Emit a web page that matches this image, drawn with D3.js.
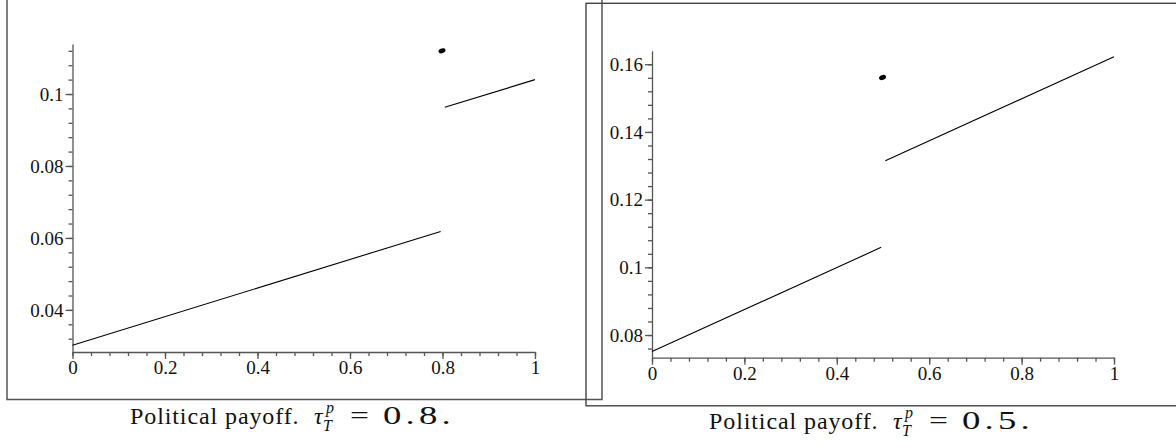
<!DOCTYPE html>
<html>
<head>
<meta charset="utf-8">
<script src="https://cdn.jsdelivr.net/npm/d3@7"></script>
<style>
  body { margin: 0; background: #fff; }
  svg { display: block; }
  .tick text { font-family: "Liberation Serif", "Times New Roman", serif; font-size: 19px; fill: #111; }
  .axis path, .axis line { stroke: #555; stroke-width: 1.3; }
  .cap { font-family: "Liberation Serif", "Times New Roman", serif; fill: #111; }
</style>
</head>
<body>
<svg id="chart" width="1176" height="447"></svg>
<script>
// x ticks shared by both panels
var xTicks = [0, 0.2, 0.4, 0.6, 0.8, 1];
var xLabels = ["0", "0.2", "0.4", "0.6", "0.8", "1"];

// left panel, tau = 0.8
var leftYTicks = [0.04, 0.06, 0.08, 0.1];
var leftYLabels = ["0.04", "0.06", "0.08", "0.1"];
var leftLow = [[0, 0.0302], [0.796, 0.0618]];
var leftHigh = [[0.805, 0.0963], [1, 0.104]];
var leftDot = [[0.799, 0.112]];

// right panel, tau = 0.5
var rightYTicks = [0.08, 0.1, 0.12, 0.14, 0.16];
var rightYLabels = ["0.08", "0.1", "0.12", "0.14", "0.16"];
var rightLow = [[0, 0.0751], [0.496, 0.1059]];
var rightHigh = [[0.505, 0.1315], [1, 0.1622]];
var rightDot = [[0.499, 0.1561]];

var captionValues = ["0.8", "0.5"];

var svg = d3.select("#chart");
var serif = "'Liberation Serif', 'Times New Roman', serif";

// frames around the two pictures
svg.append("rect").attr("x", 7).attr("y", -5).attr("width", 595).attr("height", 404.5)
    .attr("fill", "none").attr("stroke", "#555").attr("stroke-width", 1.5);
svg.append("rect").attr("x", 586).attr("y", 3.3).attr("width", 620).attr("height", 402.5)
    .attr("fill", "none").attr("stroke", "#444").attr("stroke-width", 1.4);

function panel(opt){
    var x = d3.scaleLinear().domain([0, 1]).range([opt.x0, opt.x1]);
    var y = d3.scaleLinear().domain(opt.ydom).range([opt.yb, opt.yt]);
    var g = svg.append("g");

    // minor ticks
    var xm = d3.range(0, 1.0001, 0.04);
    g.append("g").attr("class", "axis").attr("transform", "translate(0," + opt.yb + ")")
        .call(d3.axisBottom(x).tickValues(xm).tickSize(4).tickFormat(""))
        .select(".domain").remove();
    var ym = d3.range(Math.ceil(opt.ydom[0] / 0.004) * 0.004, opt.ydom[1], 0.004);
    g.append("g").attr("class", "axis").attr("transform", "translate(" + opt.x0 + ",0)")
        .call(d3.axisLeft(y).tickValues(ym).tickSize(4).tickFormat(""))
        .select(".domain").remove();

    // major axes
    var xa = g.append("g").attr("class", "axis").attr("transform", "translate(0," + opt.yb + ")")
        .call(d3.axisBottom(x).tickValues(xTicks).tickSize(7).tickSizeOuter(0)
            .tickFormat(function(d, i){ return xLabels[i]; }));
    xa.attr("font-family", serif).attr("font-size", 19);
    xa.selectAll("text").attr("dy", null).attr("y", 22);
    var ya = g.append("g").attr("class", "axis").attr("transform", "translate(" + opt.x0 + ",0)")
        .call(d3.axisLeft(y).tickValues(opt.yTicks).tickSize(7).tickSizeOuter(0)
            .tickFormat(function(d, i){ return opt.yLabels[i]; }));
    ya.attr("font-family", serif).attr("font-size", 19);
    ya.selectAll("text").attr("x", -9).attr("dy", "0.33em");

    var line = d3.line().x(function(d){ return x(d[0]); }).y(function(d){ return y(d[1]); });
    [opt.low, opt.high].forEach(function(seg){
        g.append("path").datum(seg).attr("d", line)
            .attr("fill", "none").attr("stroke", "#000").attr("stroke-width", 1.1);
    });
    g.selectAll(".dot").data(opt.dot).enter().append("ellipse")
        .attr("class", "dot")
        .attr("transform", function(d){ return "translate(" + x(d[0]) + "," + y(d[1]) + ") rotate(-20)"; })
        .attr("rx", 3.6).attr("ry", 2.4).attr("fill", "#000");

    // caption: Political payoff. tau_T^p = v.
    var cap = g.append("text").attr("class", "cap")
        .attr("transform", "translate(" + opt.capx + "," + opt.capy + ")")
        .attr("font-family", serif).attr("font-size", 24);
    cap.append("tspan").attr("x", 0).attr("y", 0).attr("letter-spacing", 0.9).text("Political payoff.");
    cap.append("tspan").attr("x", 184).attr("y", 0).attr("font-style", "italic").text("τ");
    cap.append("tspan").attr("x", 196).attr("y", -11).attr("font-size", 16).attr("font-style", "italic").text("p");
    cap.append("tspan").attr("x", 193).attr("y", 7).attr("font-size", 16).attr("font-style", "italic").text("T");
    cap.append("tspan").attr("x", 220).attr("y", 0).attr("font-size", 26)
        .attr("textLength", 19).attr("lengthAdjust", "spacingAndGlyphs").text("=");
    cap.append("tspan").attr("x", 253).attr("y", 0).attr("font-size", 26).attr("letter-spacing", 3)
        .attr("textLength", 72).attr("lengthAdjust", "spacingAndGlyphs").text(opt.cap + ".");
}

panel({x0: 72.5, x1: 535, yb: 352, yt: 44, ydom: [0.0283, 0.1139],
    yTicks: leftYTicks, yLabels: leftYLabels,
    low: leftLow, high: leftHigh, dot: leftDot, cap: captionValues[0], capx: 130, capy: 424});
panel({x0: 652, x1: 1114, yb: 357.7, yt: 50.7, ydom: [0.0733, 0.164],
    yTicks: rightYTicks, yLabels: rightYLabels,
    low: rightLow, high: rightHigh, dot: rightDot, cap: captionValues[1], capx: 709, capy: 429});
</script>
</body>
</html>
